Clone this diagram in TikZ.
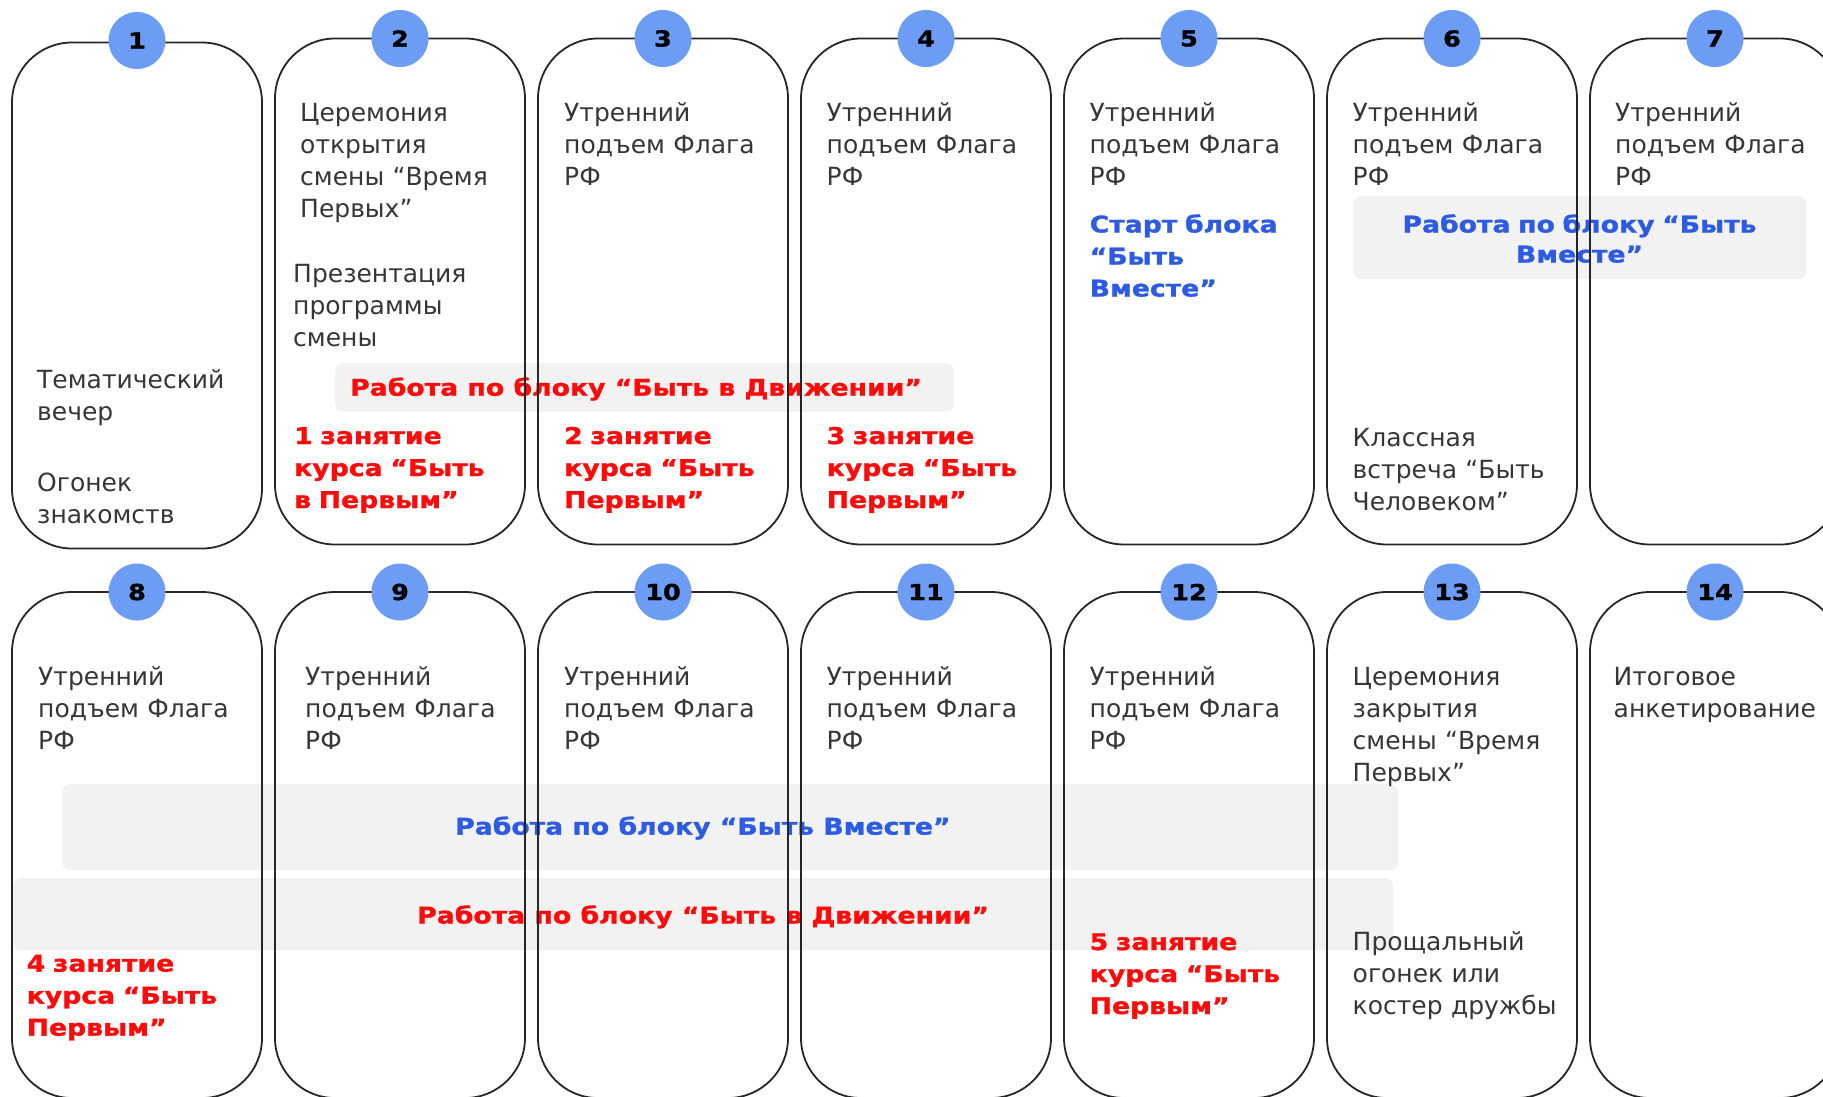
\documentclass[tikz,border=0pt]{standalone}
\usepackage{fontspec}
\setmainfont{DejaVu Sans}
\newfontfamily\blockfont{DejaVu Sans}[FakeStretch=1.16, FakeBold=1.2]
\usepackage{tikz}

\definecolor{daynum}{HTML}{6C9CF4}
\definecolor{movered}{HTML}{FF0A0A}
\definecolor{togblue}{HTML}{2D5BE3}
\definecolor{bandgrey}{HTML}{F2F2F2}
\definecolor{plaintext}{HTML}{363636}

\tikzset{
  day/.style={draw=black!85, line width=1.8pt, rounded corners=60pt,
    minimum width=250pt, minimum height=506pt, inner sep=0pt, outer sep=0pt},
  num/.style={circle, fill=daynum, minimum size=57pt, inner sep=0pt,
    font=\blockfont\bfseries\fontsize{22}{22}\selectfont},
  band/.style={fill=bandgrey, rounded corners=8pt, anchor=north west,
    inner sep=0pt},
  event/.style={anchor=base west, inner sep=0pt, text width=245pt,
    align=left, text=plaintext, font=\fontsize{25}{32}\selectfont},
  redevent/.style={event, text=movered,
    font=\blockfont\bfseries\fontsize{23}{32}\selectfont},
  blueevent/.style={redevent, text=togblue},
  bandlabel/.style={inner sep=0pt,
    font=\blockfont\bfseries\fontsize{23}{30}\selectfont}
}

\begin{document}
\begin{tikzpicture}[x=1pt, y=1pt]
    \useasboundingbox (0,0) rectangle (1823,-1096);
    % grey bands under the days
    \node[band, minimum width=619pt, minimum height=48.5pt] (moveA) at (335,-363) {};
    \node[bandlabel, anchor=base west, text=movered] (moveAt) at (350,-395.7)
      {Работа по блоку “Быть в Движении”};
    \node[band, minimum width=453pt, minimum height=83pt] (togA) at (1353,-196) {};
    \node[bandlabel, anchor=base, text width=450pt, align=center, text=togblue]
      (togAt) at (1579.5,-232.5) {Работа по блоку “Быть\\Вместе”};
    \node[band, minimum width=1336pt, minimum height=86pt] (togB) at (62,-784) {};
    \node[bandlabel, anchor=base west, text=togblue] (togBt) at (455,-834.6)
      {Работа по блоку “Быть Вместе”};
    \node[band, minimum width=1380pt, minimum height=72.5pt] (moveB) at (13,-878) {};
    \node[bandlabel, anchor=base west, text=movered] (moveBt) at (417,-923.5)
      {Работа по блоку “Быть в Движении”};
    % first week
    \foreach \n/\dy in {1/4, 2/0, 3/0, 4/0, 5/0, 6/0, 7/0}{
      \node[day] (d\n) at ({137+263*(\n-1)}, {-291.5-\dy}) {};
      \node[num] (n\n) at ([yshift={\dy/2}]d\n.north) {\n};
    }
    % second week
    \foreach \n in {8,...,14}{
      \node[day] (d\n) at ({137+263*(\n-8)}, -845) {};
      \node[num] (n\n) at (d\n.north) {\n};
    }
    % day texts
    \node[event] (e1a) at (37,-388.5) {Тематический\\вечер};
    \node[event] (e1b) at (37,-491) {Огонек\\знакомств};
    \node[event] (e2a) at (300,-121.5) {Церемония\\открытия\\смены “Время\\Первых”};
    \node[event] (e2b) at (293,-282) {Презентация\\программы\\смены};
    \node[redevent] (c1) at (294,-444) {1 занятие\\курса “Быть\\в Первым”};
    \node[event] (e3) at (564,-121.5) {Утренний\\подъем Флага\\РФ};
    \node[redevent] (c2) at (564,-444) {2 занятие\\курса “Быть\\Первым”};
    \node[event] (e4) at (826.5,-121.5) {Утренний\\подъем Флага\\РФ};
    \node[redevent] (c3) at (826.5,-444) {3 занятие\\курса “Быть\\Первым”};
    \node[event] (e5) at (1089.5,-121.5) {Утренний\\подъем Флага\\РФ};
    \node[blueevent] (s5) at (1089.5,-232.5) {Старт блока\\“Быть\\Вместе”};
    \node[event] (e6a) at (1352.5,-121.5) {Утренний\\подъем Флага\\РФ};
    \node[event] (e6b) at (1352.5,-446.5) {Классная\\встреча “Быть\\Человеком”};
    \node[event] (e7) at (1615,-121.5) {Утренний\\подъем Флага\\РФ};
    \node[event] (e8) at (38,-685.6) {Утренний\\подъем Флага\\РФ};
    \node[redevent] (c4) at (26.5,-971.6) {4 занятие\\курса “Быть\\Первым”};
    \node[event] (e9) at (305,-685.6) {Утренний\\подъем Флага\\РФ};
    \node[event] (e10) at (564,-685.6) {Утренний\\подъем Флага\\РФ};
    \node[event] (e11) at (826.5,-685.6) {Утренний\\подъем Флага\\РФ};
    \node[event] (e12) at (1089.5,-685.6) {Утренний\\подъем Флага\\РФ};
    \node[redevent] (c5) at (1089.5,-950) {5 занятие\\курса “Быть\\Первым”};
    \node[event] (e13a) at (1352.5,-685.6) {Церемония\\закрытия\\смены “Время\\Первых”};
    \node[event] (e13b) at (1352.5,-950.7) {Прощальный\\огонек или\\костер дружбы};
    \node[event] (e14) at (1613.5,-685.6) {Итоговое\\анкетирование};
  \end{tikzpicture}
\end{document}
